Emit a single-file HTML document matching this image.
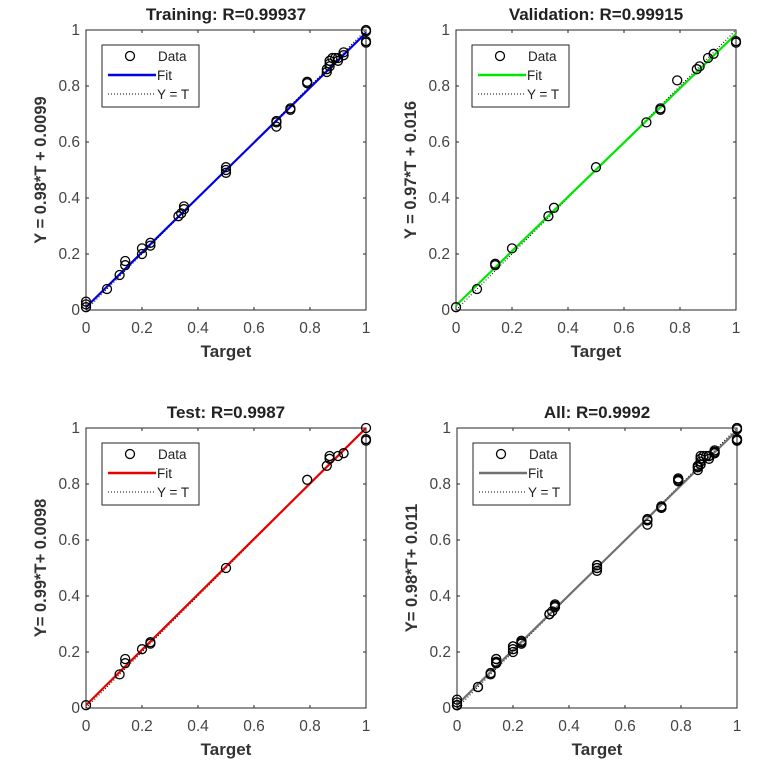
<!DOCTYPE html><html><head><style>body{margin:0;background:#fff}svg{display:block;font-family:"Liberation Sans",Arial,sans-serif}</style></head><body>
<svg id="s" width="760" height="765" xmlns="http://www.w3.org/2000/svg"></svg>
<script>
const S=document.getElementById('s');let h='';
const tr=[[0,0.01],[0,0.02],[0,0.03],[0.075,0.075],[0.12,0.125],[0.14,0.16],[0.14,0.175],[0.2,0.2],[0.2,0.22],[0.23,0.23],[0.23,0.24],[0.33,0.335],[0.34,0.345],[0.35,0.36],[0.35,0.37],[0.5,0.49],[0.5,0.5],[0.5,0.51],[0.68,0.655],[0.68,0.67],[0.68,0.675],[0.73,0.715],[0.73,0.72],[0.79,0.81],[0.79,0.815],[0.86,0.85],[0.86,0.86],[0.87,0.87],[0.87,0.88],[0.87,0.89],[0.88,0.9],[0.89,0.9],[0.9,0.89],[0.9,0.9],[0.92,0.91],[0.92,0.92],[1,0.955],[1,0.96],[1,0.995],[1,1]];
const va=[[0,0.01],[0.075,0.075],[0.14,0.16],[0.14,0.165],[0.2,0.22],[0.33,0.335],[0.35,0.365],[0.5,0.51],[0.68,0.67],[0.73,0.715],[0.73,0.72],[0.79,0.82],[0.86,0.86],[0.87,0.87],[0.9,0.9],[0.92,0.915],[1,0.955],[1,0.96]];
const te=[[0,0.01],[0.12,0.12],[0.14,0.16],[0.14,0.175],[0.2,0.21],[0.23,0.23],[0.23,0.235],[0.5,0.5],[0.79,0.815],[0.86,0.865],[0.87,0.89],[0.87,0.9],[0.9,0.9],[0.92,0.91],[1,0.955],[1,0.96],[1,1]];
const all=tr.concat(va,te);
function plot(x0,y0,title,ylab,col,a,b,pts){const W=280,H=280;const X=t=>x0+t*W,Y=v=>y0+H-v*H;
h+=`<rect x="${x0}" y="${y0}" width="${W}" height="${H}" fill="#fff" stroke="#262626" stroke-width="1"/>`;
for(let i=0;i<=5;i++){const t=i/5,lx=X(t),ly=Y(t),lb=i==0?'0':i==5?'1':t.toFixed(1);
h+=`<line x1="${lx}" y1="${y0+H}" x2="${lx}" y2="${y0+H-3}" stroke="#262626"/><line x1="${lx}" y1="${y0}" x2="${lx}" y2="${y0+3}" stroke="#262626"/>`;
h+=`<line x1="${x0}" y1="${ly}" x2="${x0+3}" y2="${ly}" stroke="#262626"/><line x1="${x0+W}" y1="${ly}" x2="${x0+W-3}" y2="${ly}" stroke="#262626"/>`;
h+=`<text x="${lx}" y="${y0+H+23}" font-size="15.5" fill="#444" text-anchor="middle">${lb}</text><text x="${x0-6}" y="${ly+5}" font-size="15.5" fill="#444" text-anchor="end">${lb}</text>`;}
h+=`<text x="${x0+W/2}" y="${y0-10}" font-size="17" font-weight="bold" fill="#222" text-anchor="middle">${title}</text>`;
h+=`<text x="${x0+W/2}" y="${y0+H+47}" font-size="17" font-weight="bold" fill="#333" text-anchor="middle">Target</text>`;
h+=`<text transform="translate(${x0-40},${y0+H/2}) rotate(-90)" font-size="16.5" font-weight="bold" fill="#333" text-anchor="middle">${ylab}</text>`;
h+=`<line x1="${X(0)}" y1="${Y(0)}" x2="${X(1)}" y2="${Y(1)}" stroke="#000" stroke-width="1" stroke-dasharray="1,2"/>`;
h+=`<line x1="${X(0)}" y1="${Y(b)}" x2="${X(1)}" y2="${Y(a+b)}" stroke="${col}" stroke-width="2.2"/>`;
pts.forEach(p=>h+=`<circle cx="${X(p[0])}" cy="${Y(p[1])}" r="4.5" fill="none" stroke="#000" stroke-width="1.3"/>`);
const lx=x0+16,ly=y0+15;
h+=`<rect x="${lx}" y="${ly}" width="97" height="62" fill="#fff" stroke="#262626"/>`;
h+=`<circle cx="${lx+28}" cy="${ly+11}" r="4.5" fill="none" stroke="#000" stroke-width="1.3"/><text x="${lx+56}" y="${ly+16}" font-size="13.5" fill="#222">Data</text>`;
h+=`<line x1="${lx+6}" y1="${ly+30}" x2="${lx+54}" y2="${ly+30}" stroke="${col}" stroke-width="2.5"/><text x="${lx+55}" y="${ly+35}" font-size="13.5" fill="#222">Fit</text>`;
h+=`<line x1="${lx+6}" y1="${ly+49}" x2="${lx+54}" y2="${ly+49}" stroke="#000" stroke-dasharray="1,2"/><text x="${lx+55}" y="${ly+54}" font-size="13.5" fill="#222">Y = T</text>`;}
plot(86,30,'Training: R=0.99937','Y = 0.98*T + 0.0099','#0000e6',0.98,0.0099,tr);
plot(456,30,'Validation: R=0.99915','Y = 0.97*T + 0.016','#00e600',0.97,0.016,va);
plot(86,428,'Test: R=0.9987','Y= 0.99*T+ 0.0098','#e60000',0.99,0.0098,te);
plot(457,428,'All: R=0.9992','Y= 0.98*T+ 0.011','#707070',0.98,0.011,all);
S.innerHTML=h;
</script></body></html>
